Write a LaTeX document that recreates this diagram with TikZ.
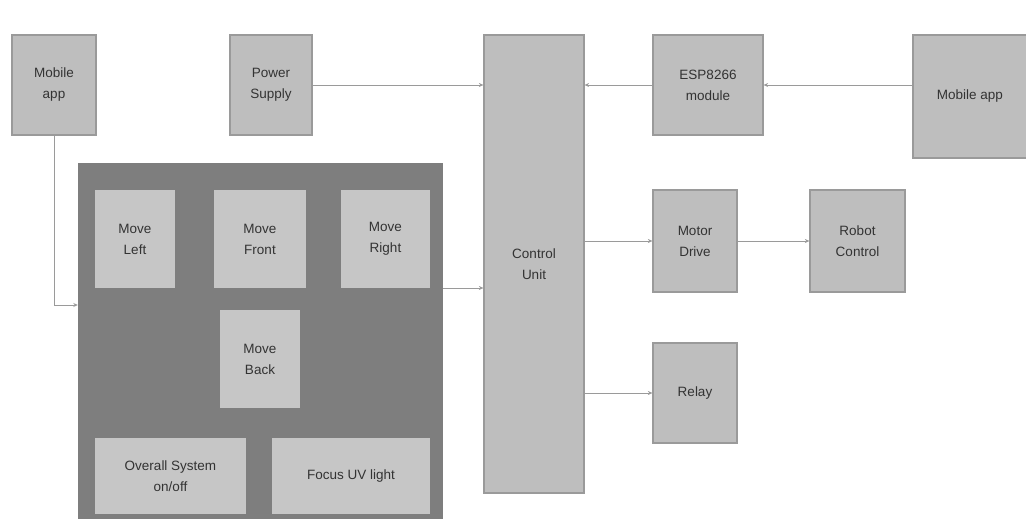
\documentclass[tikz,border=0pt]{standalone}
\usepackage{fontspec}
\setmainfont{Liberation Sans}
\usetikzlibrary{arrows.meta}
\definecolor{boxgray}{HTML}{BEBEBE}
\definecolor{edgegray}{HTML}{9A9A9A}
\definecolor{panelgray}{HTML}{7E7E7E}
\definecolor{innergray}{HTML}{C6C6C6}
\definecolor{txtgray}{HTML}{333333}
\begin{document}
\begin{tikzpicture}[
      x=1pt, y=-1pt,
      font=\fontsize{13.5}{21}\selectfont, text=txtgray,
      blk/.style={draw=edgegray, line width=1.2pt, fill=boxgray, align=center, inner sep=0pt},
      sub/.style={fill=innergray, align=center, inner sep=0pt},
      arr/.style={draw=edgegray, line width=0.9pt, -{Stealth[length=4.5pt,width=4pt]}}
    ]
    \useasboundingbox (0,0) rectangle (1026,519);
    % top row and control unit
    \node[blk, minimum width=84pt, minimum height=100pt] (mobL) at (54,85) {Mobile\\app};
    \node[blk, minimum width=82pt, minimum height=100pt] (power) at (271,85) {Power\\Supply};
    \node[blk, minimum width=100pt, minimum height=458pt] (ctrl) at (534,264) {Control\\Unit};
    \node[blk, minimum width=110pt, minimum height=100pt] (esp) at (708,85) {ESP8266\\module};
    \node[blk, minimum width=114pt, minimum height=123pt] (mobR) at (970,96.5) {Mobile app};
    % panel of commands
    \node[fill=panelgray, minimum width=365pt, minimum height=356pt, inner sep=0pt] (panel) at (260.5,341) {};
    \foreach \n/\x/\w/\t in {mL/135/80/Left, mF/260/92/Front, mR/385.5/89/Right} {
      \node[sub, minimum width=\w pt, minimum height=98pt] (\n) at (\x,239) {Move\\\t};
    }
    \node[sub, minimum width=80pt, minimum height=98pt] (mB) at (260,359) {Move\\Back};
    \node[sub, minimum width=151pt, minimum height=76pt] (sys) at (170.5,476) {Overall System\\on/off};
    \node[sub, minimum width=158pt, minimum height=76pt] (uv) at (351,476) {Focus UV light};
    % outputs
    \node[blk, minimum width=84pt, minimum height=102pt] (motor) at (695,241) {Motor\\Drive};
    \node[blk, minimum width=95pt, minimum height=102pt] (robot) at (857.5,241) {Robot\\Control};
    \node[blk, minimum width=84pt, minimum height=100pt] (relay) at (695,393) {Relay};
    % connections
    \draw[arr] (mobL.south) |- ([yshift=36pt]panel.west);
    \draw[arr] (power.east) -- (power.east -| ctrl.west);
    \draw[arr] (esp.west) -- (esp.west -| ctrl.east);
    \draw[arr] (mobR.west |- esp.east) -- (esp.east);
    \draw[arr] ([yshift=53pt]panel.east) -- ([yshift=53pt]panel.east -| ctrl.west);
    \draw[arr] (motor.west -| ctrl.east) -- (motor.west);
    \draw[arr] (motor.east) -- (robot.west);
    \draw[arr] (relay.west -| ctrl.east) -- (relay.west);
  \end{tikzpicture}
\end{document}
